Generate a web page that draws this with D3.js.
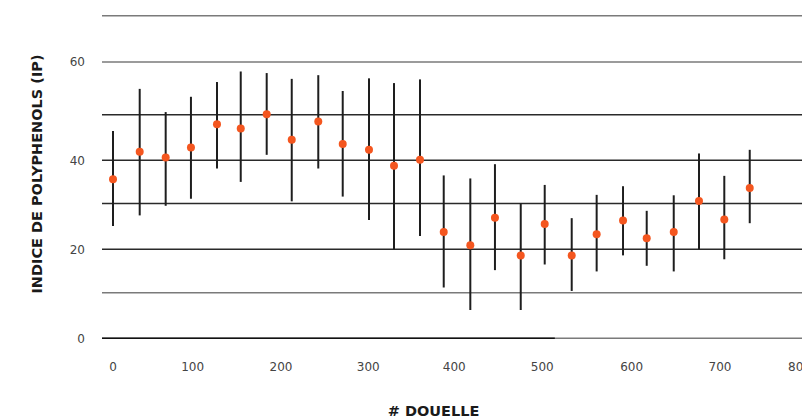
<!DOCTYPE html>
<html>
<head>
<meta charset="utf-8">
<script src="https://cdn.jsdelivr.net/npm/d3@7"></script>
<style>
  html, body { margin: 0; padding: 0; background: #fff; }
  svg { display: block; }
</style>
</head>
<body>
<svg id="chart" width="802" height="419"></svg>
<script>
// ---- data ----
const douelle = [0, 33.5, 66.1, 97.8, 127.5, 154.4, 183.8, 212.3, 242.7, 270.7, 300.8, 329.9, 360.1,
                 387.7, 418.2, 446.2, 475.5, 502.7, 532.9, 560.8, 590.3, 617, 647.6, 676.2, 705.4, 737.4];
const ipMean  = [35.6, 41.9, 40.6, 42.8, 47.9, 47.0, 50.1, 44.5, 48.5, 43.6, 42.3, 38.75, 40.1,
                 23.8, 20.9, 26.9, 18.6, 25.5, 18.6, 23.3, 26.3, 22.4, 23.8, 30.6, 26.5, 33.6];
const ipHigh  = [46.4, 54.9, 50.5, 53.4, 56.2, 58.2, 57.9, 56.8, 57.5, 54.5, 56.9, 56.0, 56.7,
                 36.5, 35.8, 39.1, 30.0, 34.3, 26.8, 32.0, 34.0, 28.4, 31.9, 41.5, 36.4, 42.3];
const ipLow   = [25.1, 27.4, 29.5, 31.1, 38.1, 35.0, 41.2, 30.5, 38.1, 31.6, 26.4, 20.0, 22.9,
                 11.2, 6.2, 15.2, 6.2, 16.5, 10.4, 14.9, 18.6, 16.2, 14.9, 20.0, 17.7, 25.7];
const xTicks = [0, 100, 200, 300, 400, 500, 600, 700, 800];
const yTicks = [0, 20, 40, 60];
const yGrid  = [0, 10, 20, 30, 40, 50, 60, 70];
const yGridLight = [10, 60, 70];
const xTitle = "# DOUELLE";
const yTitle = "INDICE DE POLYPHENOLS (IP)";

// ---- scales ----
const x = d3.scaleLinear()
  .domain(xTicks)
  .range([113, 192.7, 281, 368.3, 454.3, 542.3, 631.7, 720, 799.5]);
const y = d3.scaleLinear()
  .domain(yGrid)
  .range([338.3, 292.7, 249.3, 203.5, 160.3, 114.7, 62, 15.7]);

const svg = d3.select("#chart");
const gridX0 = 102, gridX1 = 802;

// ---- grid lines ----
svg.append("g").selectAll("line").data(yGrid).join("line")
  .attr("x1", gridX0).attr("x2", gridX1)
  .attr("y1", d => y(d)).attr("y2", d => y(d))
  .attr("stroke", d => (yGridLight.includes(d) || d === 0) ? "#7a7a7a" : "#2a2a2a")
  .attr("stroke-width", 1.5);
// darker portion of the baseline
svg.append("line")
  .attr("x1", gridX0).attr("x2", x(514))
  .attr("y1", y(0)).attr("y2", y(0))
  .attr("stroke", "#111").attr("stroke-width", 1.6);

// ---- y tick labels ----
svg.append("g").selectAll("text").data(yTicks).join("text")
  .attr("x", 85).attr("y", d => y(d))
  .attr("dy", "0.35em")
  .attr("text-anchor", "end")
  .attr("font-family", "'DejaVu Sans', sans-serif")
  .attr("font-size", 12)
  .attr("fill", "#444")
  .text(d => d);

// ---- x tick labels ----
svg.append("g").selectAll("text").data(xTicks).join("text")
  .attr("x", d => x(d)).attr("y", 370.8)
  .attr("text-anchor", "middle")
  .attr("font-family", "'DejaVu Sans', sans-serif")
  .attr("font-size", 12)
  .attr("fill", "#444")
  .text(d => d);

// ---- error bars ----
const pts = douelle.map((d, i) => ({ x: d, m: ipMean[i], hi: ipHigh[i], lo: ipLow[i] }));
svg.append("g").selectAll("line").data(pts).join("line")
  .attr("x1", d => x(d.x)).attr("x2", d => x(d.x))
  .attr("y1", d => y(d.hi)).attr("y2", d => y(d.lo))
  .attr("stroke", "#1e1e1e").attr("stroke-width", 2);

// ---- points ----
svg.append("g").selectAll("circle").data(pts).join("circle")
  .attr("cx", d => x(d.x)).attr("cy", d => y(d.m))
  .attr("r", 4)
  .attr("fill", "#f4561f");

// ---- titles ----
svg.append("text")
  .attr("x", 433.5).attr("y", 415.5)
  .attr("text-anchor", "middle")
  .attr("font-family", "'DejaVu Sans', sans-serif")
  .attr("font-weight", "bold")
  .attr("font-size", 14.5)
  .attr("fill", "#1a1a1a")
  .text(xTitle);

svg.append("text")
  .attr("transform", "translate(41.5,174) rotate(-90)")
  .attr("text-anchor", "middle")
  .attr("font-family", "'DejaVu Sans', sans-serif")
  .attr("font-weight", "bold")
  .attr("font-size", 14.5)
  .attr("fill", "#1a1a1a")
  .text(yTitle);
</script>
</body>
</html>
